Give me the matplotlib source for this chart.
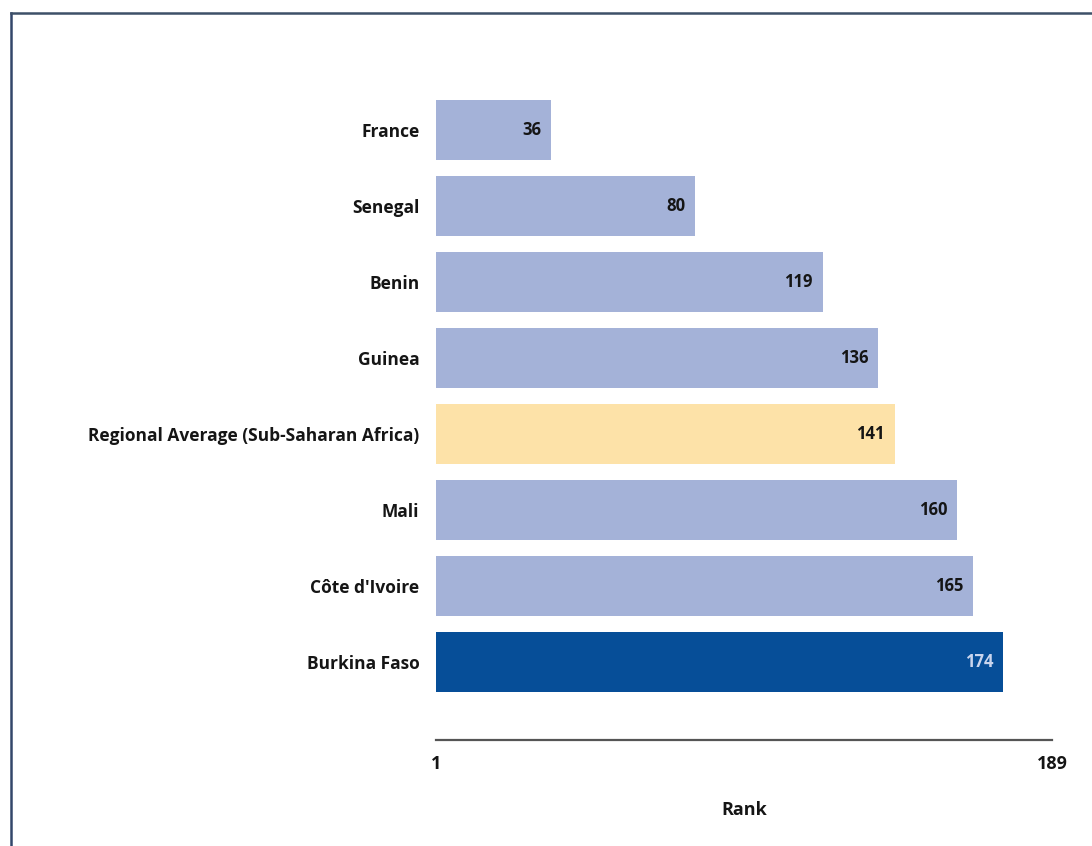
import matplotlib
matplotlib.use("Agg")
import matplotlib.pyplot as plt
from matplotlib.lines import Line2D

countries = ["France", "Senegal", "Benin", "Guinea",
             "Regional Average (Sub-Saharan Africa)", "Mali",
             "Côte d'Ivoire", "Burkina Faso"]
ranks = [36, 80, 119, 136, 141, 160, 165, 174]
rank_min, rank_max = 1, 189

LIGHT = "#a4b2d8"
REGION = "#fde2a8"
FOCUS = "#064e98"
colors = []
for c in countries:
    if c.startswith("Regional"):
        colors.append(REGION)
    elif c == "Burkina Faso":
        colors.append(FOCUS)
    else:
        colors.append(LIGHT)

plt.rcParams["font.family"] = ["Open Sans", "DejaVu Sans"]

W, H = 1092, 846
fig = plt.figure(figsize=(W / 100, H / 100), dpi=100)
fig.patch.set_facecolor("white")

# axes placed so the rank scale runs from x=436 px to x=1052 px
ax = fig.add_axes([436 / W, 1 - 740 / H, 616 / W, 680 / H])
ypos = list(range(len(countries)))
ax.barh(ypos, [r - rank_min for r in ranks], left=rank_min, height=0.79,
        color=colors, edgecolor="none")
ax.set_xlim(rank_min, rank_max)
ax.set_ylim(8.027, -0.928)

for y, r, c in zip(ypos, ranks, countries):
    tc = "#c9d5ee" if c == "Burkina Faso" else "#151515"
    ax.annotate(str(r), xy=(r, y), xytext=(-7, 0), textcoords="offset points",
                ha="right", va="center", fontsize=12, fontweight="bold", color=tc)

ax.set_yticks(ypos)
ax.set_yticklabels(countries, fontsize=12.5, fontweight="bold", color="#151515")
ax.tick_params(axis="y", length=0, pad=12)
ax.set_xticks([rank_min, rank_max])
ax.set_xticklabels([str(rank_min), str(rank_max)], fontsize=13, fontweight="bold", color="#151515")
ax.tick_params(axis="x", length=0, pad=11)
ax.set_xlabel("Rank", fontsize=13, fontweight="bold", color="#151515", labelpad=20)

for s in ["top", "right", "left"]:
    ax.spines[s].set_visible(False)
ax.spines["bottom"].set_color("#555555")
ax.spines["bottom"].set_linewidth(1.6)

# outer frame (left and top edges)
fx, fy = 10.5 / W, 1 - 13.5 / H
fig.add_artist(Line2D([fx, fx], [0, fy], transform=fig.transFigure, color="#33466a", lw=1.8))
fig.add_artist(Line2D([fx, 1], [fy, fy], transform=fig.transFigure, color="#3d5068", lw=1.8))

fig.savefig("out.png", dpi=100, facecolor="white")
